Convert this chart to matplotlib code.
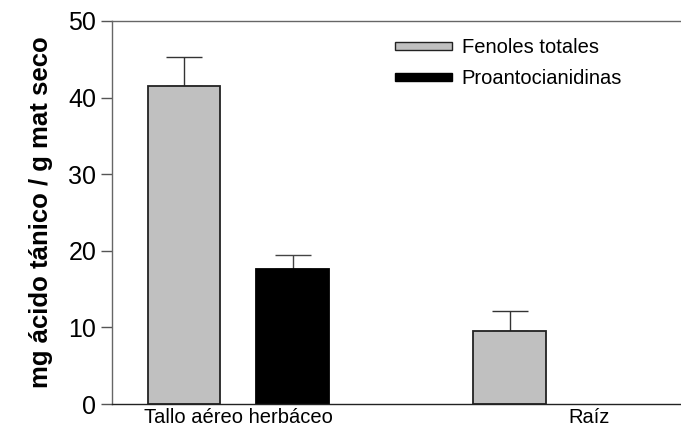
import numpy as np
import matplotlib.pyplot as plt
from matplotlib.patches import Patch

plt.rcParams['font.family'] = ['Liberation Sans', 'DejaVu Sans']

# data
groups = ['Tallo aéreo herbáceo', 'Raíz']
fenoles = [41.55, 9.55]
fenoles_err = [3.7, 2.65]
proanto = [17.6, 0.0]
proanto_err = [1.8, 0.0]

# layout in bar-width units
fen_x = np.array([1.0, 5.5])
pro_x = np.array([2.5, 7.0])
label_x = [1.75, 6.6]

fig = plt.figure(figsize=(6.81, 4.28), dpi=100)
ax = fig.add_axes([0.164, 0.056, 0.836, 0.895])

edge = '#222222'
ax.bar(fen_x, fenoles, width=1.0, color='#c0c0c0', edgecolor=edge, linewidth=1.3, zorder=2)
ax.bar(pro_x[:1], proanto[:1], width=1.0, color='black', edgecolor='black', linewidth=1.3, zorder=2)

ax.errorbar(fen_x, fenoles, yerr=[np.zeros(2), fenoles_err], fmt='none',
            ecolor='#333333', elinewidth=1.0, capsize=13, capthick=1.0, zorder=1)
ax.errorbar(pro_x[:1], proanto[:1], yerr=[[0], proanto_err[:1]], fmt='none',
            ecolor='#444444', elinewidth=1.0, capsize=13, capthick=1.0, zorder=1)

ax.set_xlim(0, 7.87)
ax.set_ylim(0, 50)
ax.set_yticks([0, 10, 20, 30, 40, 50])
ax.set_xticks(label_x)
ax.set_xticklabels(groups, fontsize=14.5)
ax.tick_params(axis='x', length=0, pad=3)
ax.tick_params(axis='y', labelsize=18, length=8, width=1.0, color='#555555', direction='out', pad=3)

for s in ['left', 'top', 'bottom']:
    ax.spines[s].set_linewidth(1.0)
ax.spines['left'].set_color('#666666')
ax.spines['top'].set_color('#666666')
ax.spines['bottom'].set_color('#222222')
ax.spines['right'].set_visible(False)

ax.set_ylabel('mg ácido tánico / g mat seco', fontsize=18.5, fontweight='bold', labelpad=11)

handles = [Patch(facecolor='#c0c0c0', edgecolor=edge, linewidth=1.0, label='Fenoles totales'),
           Patch(facecolor='black', edgecolor='black', label='Proantocianidinas')]
ax.legend(handles=handles, loc='upper left', bbox_to_anchor=(0.498, 0.955), frameon=False,
          fontsize=14.5, handlelength=2.8, handleheight=0.3, handletextpad=0.5,
          labelspacing=0.6, borderpad=0, borderaxespad=0)

fig.savefig('out.png', dpi=100)
